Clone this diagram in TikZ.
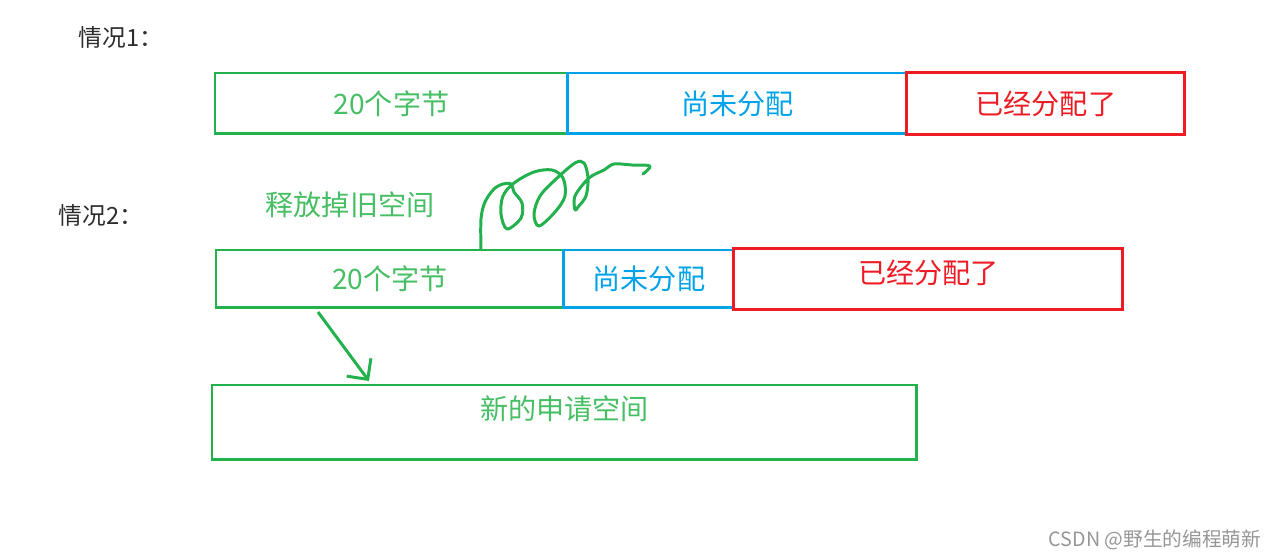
\documentclass[tikz,border=0pt]{standalone}
\usepackage{fontspec}
\setmainfont{Noto Sans CJK SC}
\usetikzlibrary{arrows.meta, positioning}
\definecolor{paintgreen}{RGB}{34,177,76}
\definecolor{paintblue}{RGB}{0,162,232}
\definecolor{paintred}{RGB}{237,28,36}
\definecolor{textgreen}{RGB}{70,190,100}
\definecolor{labelgray}{RGB}{45,45,45}
\definecolor{markgray}{RGB}{150,150,150}

\begin{document}
\begin{tikzpicture}[x=0.02cm, y=-0.02cm,
    memblock/.style={rectangle, draw, line width=1.7pt, inner sep=0pt, outer sep=0pt, font=\fontsize{16}{18}\selectfont},
    freeblock/.style={memblock, draw=paintgreen, text=textgreen},
    idleblock/.style={memblock, draw=paintblue, text=paintblue},
    usedblock/.style={memblock, draw=paintred, text=paintred},
    caselabel/.style={font=\fontsize{13.5}{16}\selectfont, text=labelgray},
    move/.style={-{Straight Barb[length=3mm, width=6mm, line width=1.7pt]}, line width=1.7pt, color=paintgreen}
]
\useasboundingbox (0,0) rectangle (1276,558);

% 情况1
\node[caselabel] (case1) at (121,37) {情况1：};
\node[freeblock, anchor=north west, minimum width=7.06cm, minimum height=1.22cm] (old1) at (215,73) {20个字节};
\node[idleblock, right=0pt of old1, minimum width=6.78cm, minimum height=1.22cm] (idle1) {尚未分配};
\node[usedblock, right=0pt of idle1, minimum width=5.56cm, minimum height=1.24cm] (used1) {已经分配了};

% 情况2
\node[caselabel] (case2) at (101,215) {情况2：};
\node[font=\fontsize{16}{18}\selectfont, text=textgreen] (release) at (350,205) {释放掉旧空间};
\node[freeblock, anchor=north west, minimum width=6.96cm, minimum height=1.16cm] (old2) at (216,250) {20个字节};
\node[idleblock, right=0pt of old2, minimum width=3.4cm, minimum height=1.16cm] (idle2) {尚未分配};
\node[usedblock, right=0pt of idle2, minimum width=7.78cm, minimum height=1.22cm, text depth=0.3cm] (used2) {已经分配了};
\node[freeblock, anchor=north west, minimum width=14.1cm, minimum height=1.5cm, text depth=0.6cm] (new2) at (212,385) {新的申请空间};

% 释放的涂鸦
\draw[line width=1.7pt, color=paintgreen, line cap=round, line join=round]
    plot[smooth, tension=0.55] coordinates {(481,250) (481,219) (485,202) (494,189) (503,184) (511,184) (514,192)
    (522,203) (521,218) (507,229) (501,214) (503,196) (514,183) (534,172) (552,170) (563,178) (565,196)
    (555,212) (539,226) (534,214) (540,196) (555,180) (575,163) (584,163) (588,178) (586,196)
    (578,207) (575,210) (575,196) (589,178) (604,170) (614,164) (632,165) (650,166) (643,174)};

% 移到新空间
\coordinate (from) at (318,312);
\coordinate (to) at (369,381);
\draw[move] (from) -- (to);

\node[font=\fontsize{11.2}{13}\selectfont, text=markgray] (mark) at (1155,540) {CSDN @野生的编程萌新};
\end{tikzpicture}
\end{document}
